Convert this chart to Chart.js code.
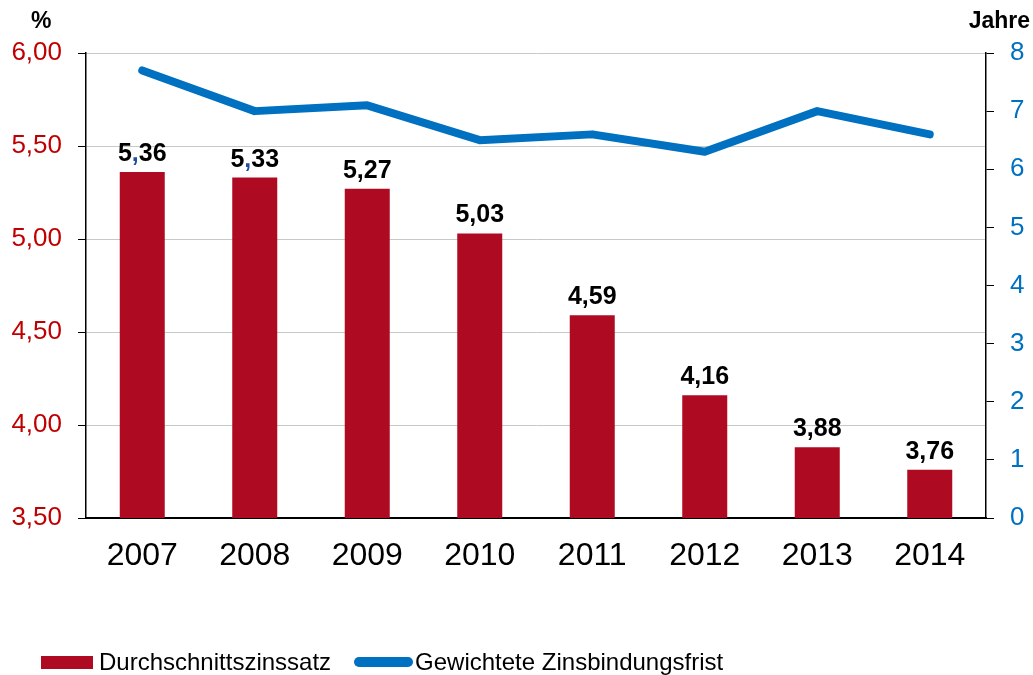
<!DOCTYPE html>
<html>
<head>
<meta charset="utf-8">
<script src="https://cdn.jsdelivr.net/npm/chart.js@4"></script>
<style>
  html, body { margin: 0; padding: 0; background: #fff; }
  #wrap { position: relative; width: 1033px; height: 675px; font-family: "Liberation Sans", Arial, sans-serif; }
  #c { position: absolute; left: 0; top: 0; }
  .unit { position: absolute; top: 9px; font-weight: bold; font-size: 23px; line-height: 1; color: #000; }
  #legend { position: absolute; left: 41px; top: 650px; font-size: 24px; line-height: 1; color: #000; display: flex; align-items: center; }
  .item { display: inline-flex; align-items: center; }
  .sw-bar { display: inline-block; width: 52px; height: 13px; background: #ae0a21; margin-right: 6px; }
  .sw-line { display: inline-block; width: 59px; height: 10px; border-radius: 5px; background: #0070c0; margin-left: 23px; margin-right: 2px; }
</style>
</head>
<body>
<div id="wrap">
  <canvas id="c" width="1033" height="675"></canvas>
  <div class="unit" style="left:31px;">%</div>
  <div class="unit" style="right:3px;">Jahre</div>
  <div id="legend">
    <span class="item"><span class="sw-bar"></span>Durchschnittszinssatz</span>
    <span class="item"><span class="sw-line"></span>Gewichtete Zinsbindungsfrist</span>
  </div>
</div>
<script>
(function () {
    'use strict';

    var years = ['2007', '2008', '2009', '2010', '2011', '2012', '2013', '2014'];
    var zinssatz = [5.36, 5.33, 5.27, 5.03, 4.59, 4.16, 3.88, 3.76];
    var bindungsfrist = [7.7, 7.0, 7.1, 6.5, 6.6, 6.3, 7.0, 6.6];
    // the original has blue commas on the first two labels
    var blueComma = [true, true, false, false, false, false, false, false];

    var RED = '#ae0a21';
    var BLUE = '#0070c0';
    var FONT = '"Liberation Sans", Arial, sans-serif';

    function de(v, digits) {
        return v.toFixed(digits).replace('.', ',');
    }

    var barLabels = {
        id: 'barLabels',
        afterDatasetsDraw: function (chart) {
            var ctx = chart.ctx;
            var meta = chart.getDatasetMeta(1);
            ctx.save();
            ctx.font = 'bold 25px ' + FONT;
            ctx.textBaseline = 'alphabetic';
            ctx.textAlign = 'left';
            meta.data.forEach(function (bar, i) {
                var txt = de(zinssatz[i], 2);
                var parts = txt.split(',');
                var w0 = ctx.measureText(parts[0]).width;
                var w1 = ctx.measureText(',').width;
                var total = ctx.measureText(txt).width;
                var x = bar.x - total / 2;
                var y = bar.y - 11;
                ctx.fillStyle = '#000';
                ctx.fillText(parts[0], x, y);
                ctx.fillStyle = blueComma[i] ? '#1f4e9c' : '#000';
                ctx.fillText(',', x + w0, y);
                ctx.fillStyle = '#000';
                ctx.fillText(parts[1], x + w0 + w1, y);
            });
            ctx.restore();
        }
    };

    new Chart(document.getElementById('c').getContext('2d'), {
        data: {
            labels: years,
            datasets: [
                {
                    type: 'line',
                    label: 'Gewichtete Zinsbindungsfrist',
                    data: bindungsfrist,
                    yAxisID: 'y1',
                    borderColor: BLUE,
                    borderWidth: 8,
                    borderCapStyle: 'round',
                    borderJoinStyle: 'round',
                    pointRadius: 0,
                    tension: 0,
                    order: 0
                },
                {
                    type: 'bar',
                    label: 'Durchschnittszinssatz',
                    data: zinssatz,
                    yAxisID: 'y',
                    backgroundColor: RED,
                    barPercentage: 0.4,
                    categoryPercentage: 1,
                    order: 1
                }
            ]
        },
        options: {
            responsive: false,
            animation: false,
            layout: { padding: { top: 53, left: 0, right: 0, bottom: 0 } },
            plugins: {
                legend: { display: false },
                tooltip: { enabled: false }
            },
            scales: {
                x: {
                    offset: true,
                    grid: { display: false, drawTicks: false },
                    border: { color: '#000', width: 2 },
                    ticks: { color: '#000', font: { family: FONT, size: 32 }, padding: 19 },
                    afterFit: function (s) { s.height = 157; }
                },
                y: {
                    position: 'left',
                    min: 3.5,
                    max: 6.0,
                    ticks: {
                        stepSize: 0.5,
                        color: '#c00000',
                        font: { family: FONT, size: 26 },
                        padding: 16,
                        callback: function (v) { return de(v, 2); }
                    },
                    grid: { color: '#c4cbc4', lineWidth: 1, tickColor: '#000', tickLength: 8 },
                    border: { color: '#000', width: 1.5 },
                    afterFit: function (s) { s.width = 86; }
                },
                y1: {
                    position: 'right',
                    min: 0,
                    max: 8,
                    ticks: {
                        stepSize: 1,
                        color: BLUE,
                        font: { family: FONT, size: 26 },
                        padding: 16
                    },
                    grid: { drawOnChartArea: false, tickColor: '#000', tickLength: 8 },
                    border: { color: '#000', width: 1.5 },
                    afterFit: function (s) { s.width = 47; }
                }
            }
        },
        plugins: [barLabels]
    });
})();
</script>
</body>
</html>
